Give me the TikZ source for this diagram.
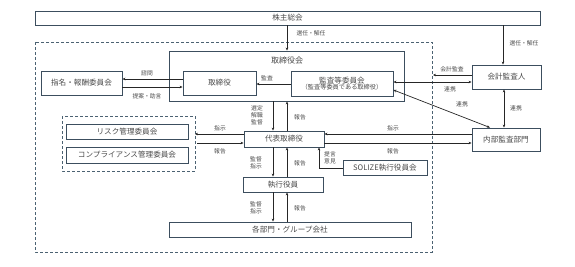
\documentclass[tikz,border=0pt]{standalone}
\usepackage{fontspec}
\setmainfont{Noto Sans CJK JP}
\usetikzlibrary{arrows.meta}
\definecolor{boxc}{HTML}{3C4E5E}
\definecolor{dashc}{HTML}{4B6272}
\definecolor{txtc}{HTML}{4A4A4A}
\begin{document}
\begin{tikzpicture}[x=1pt,y=-1pt,
  box/.style={draw=boxc,line width=0.9pt,inner sep=0pt,text=txtc,font=\fontsize{7.6}{9}\selectfont},
  dbox/.style={draw=dashc,line width=0.9pt,dash pattern=on 3pt off 2pt},
  lab/.style={text=txtc,font=\fontsize{5.8}{7.2}\selectfont,inner sep=0pt,align=center},
  arr/.style={draw=black!85,line width=0.7pt,-{Stealth[length=3pt,width=2.6pt]}},
  arrb/.style={draw=black!85,line width=0.7pt,{Stealth[length=3pt,width=2.6pt]}-{Stealth[length=3pt,width=2.6pt]}}]
\useasboundingbox (0,0) rectangle (575,267);
% frames
\draw[dbox] (35,42) rectangle (432,252);
\draw[dbox] (62,116) rectangle (195,171);
% boxes
\node[box,minimum width=505pt,minimum height=14pt] (kabu) at (287.5,18) {株主総会};
\node[box,minimum width=235pt,minimum height=50pt] (torikai) at (286.5,76) {};
\node[text=txtc,font=\fontsize{8}{9}\selectfont,inner sep=0pt] (torikaiL) at (287,60) {取締役会};
\node[box,minimum width=81pt,minimum height=24pt] (shimei) at (81.5,83) {指名・報酬委員会};
\node[box,minimum width=73pt,minimum height=24pt] (tori) at (219.5,83) {取締役};
\node[box,minimum width=102pt,minimum height=25pt,align=center] (kansa) at (342,83.5) {監査等委員会\\[-2.5pt]{\fontsize{6.2}{7}\selectfont （監査等委員である取締役）}};
\node[box,minimum width=69pt,minimum height=24pt] (kaikei) at (506.5,77) {会計監査人};
\node[box,minimum width=68pt,minimum height=23pt] (naibu) at (506,139.5) {内部監査部門};
\node[box,minimum width=80pt,minimum height=16pt] (daihyo) at (284,139) {代表取締役};
\node[box,minimum width=122pt,minimum height=15pt] (risk) at (127,131.5) {リスク管理委員会};
\node[box,minimum width=122pt,minimum height=16pt] (comp) at (127,155) {コンプライアンス管理委員会};
\node[box,minimum width=80pt,minimum height=15pt] (shikko) at (283,184.5) {執行役員};
\node[box,minimum width=242pt,minimum height=15pt] (kakubu) at (290,229.5) {各部門・グループ会社};
\node[box,minimum width=84pt,minimum height=15pt] (solize) at (385,167.5) {SOLIZE執行役員会};
% helper coordinates
\coordinate (xa) at (273,0);
\coordinate (xb) at (287,0);
\coordinate (xk) at (503,0);
\coordinate (xkv) at (504,0);
\coordinate (xs) at (319,0);
\coordinate (y79) at (0,79);
\coordinate (y87) at (0,87);
\coordinate (y84) at (0,84);
\coordinate (y82) at (0,82);
\coordinate (y134) at (0,134);
\coordinate (y143) at (0,143);
\coordinate (y168) at (0,168);
\coordinate (kaend) at (433,75);
\coordinate (riskend) at (195,134);
\coordinate (riskst) at (197,143);
% connectors
\draw[arr] (kabu.south -| xb) -- (torikai.north -| xb);
\draw[arr] (kabu.south -| xk) -- (kaikei.north -| xk);
\draw[arr] (tori.west |- y79) -- (shimei.east |- y79);
\draw[arr] (shimei.east |- y87) -- (tori.west |- y87);
\draw[arr] (kansa.west |- y84) -- (tori.east |- y84);
\draw[arr] (kaikei.west |- kaend) -- (kaend);
\draw[arrb] (kansa.east |- y82) -- (kaikei.west |- y82);
\draw[arrb] ([yshift=-6.5pt]kansa.east) -- ([xshift=-16pt]naibu.north);
\draw[arrb] (kaikei.south -| xkv) -- (naibu.north -| xkv);
\draw[arr] (torikai.south -| xa) -- (daihyo.north -| xa);
\draw[arr] (daihyo.north -| xb) -- (torikai.south -| xb);
\draw[arr] (naibu.west |- y134) -- (daihyo.east |- y134);
\draw[arr] (daihyo.east |- y143) -- (naibu.west |- y143);
\draw[arr] (daihyo.west |- y134) -- (riskend);
\draw[arr] (riskst) -- (daihyo.west |- y143);
\draw[arr] (daihyo.south -| xa) -- (shikko.north -| xa);
\draw[arr] (shikko.north -| xb) -- (daihyo.south -| xb);
\draw[arr] (shikko.south -| xa) -- (kakubu.north -| xa);
\draw[arr] (kakubu.north -| xb) -- (shikko.south -| xb);
\draw[arr] (solize.west |- y168) -| (daihyo.south -| xs);
% labels
\node[lab] (l1) at (311,33) {選任・解任};
\node[lab] (l2) at (524,43) {選任・解任};
\node[lab] (l3) at (147,73) {諮問};
\node[lab] (l4) at (147,96) {提案・助言};
\node[lab] (l5) at (267,78) {監査};
\node[lab] (l6) at (452,69) {会計監査};
\node[lab] (l7) at (450,89) {連携};
\node[lab] (l8) at (462,104) {連携};
\node[lab] (l9) at (516,108) {連携};
\node[lab] (l10) at (257,115.5) {選定\\解職\\監督};
\node[lab] (l11) at (300,117) {報告};
\node[lab] (l12) at (393,128) {指示};
\node[lab] (l13) at (393,151) {報告};
\node[lab] (l14) at (220,128) {指示};
\node[lab] (l15) at (220,151) {報告};
\node[lab] (l16) at (256,163) {監督\\指示};
\node[lab] (l17) at (300,163) {報告};
\node[lab] (l18) at (256,207.5) {監督\\指示};
\node[lab] (l19) at (300,208) {報告};
\node[lab] (l20) at (330,157.5) {提言\\意見};
\end{tikzpicture}
\end{document}
